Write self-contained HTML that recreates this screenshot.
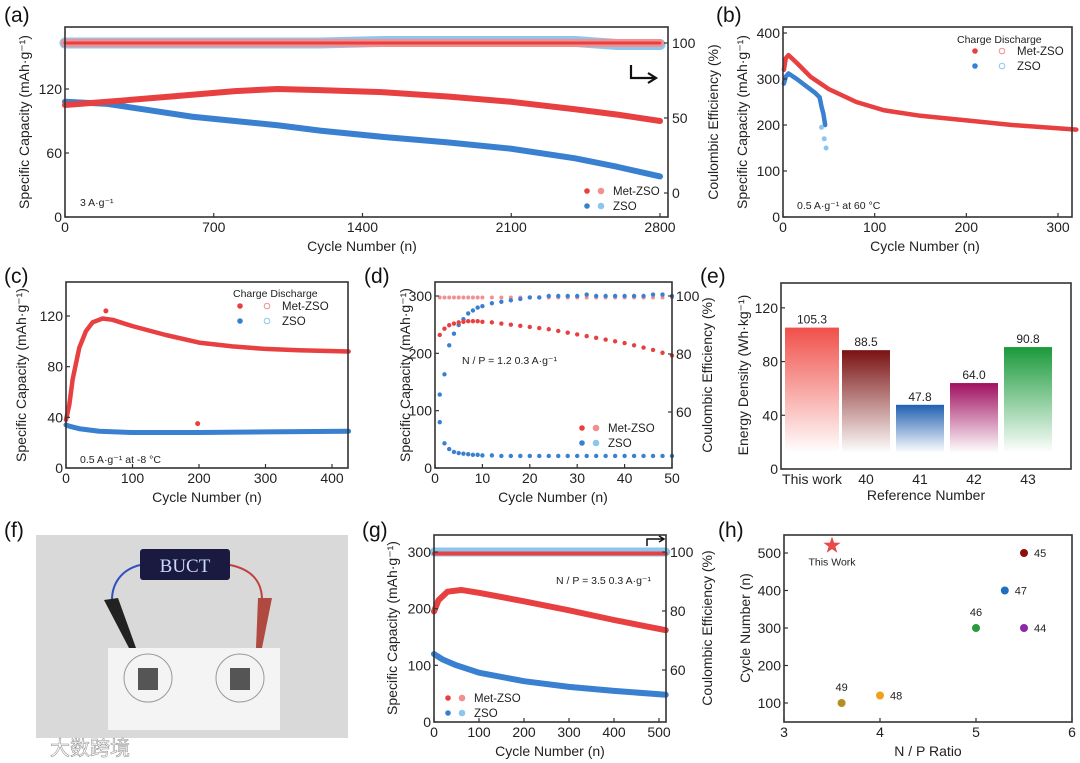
<!DOCTYPE html>
<html><head><meta charset="utf-8"><style>
html,body{margin:0;padding:0;background:#fff;}
svg{display:block;font-family:"Liberation Sans","Noto Sans CJK SC",sans-serif;}
</style></head><body>
<svg id="fig" width="1080" height="763" viewBox="0 0 1080 763" xmlns="http://www.w3.org/2000/svg">
<defs>
<linearGradient id="gr0" x1="0" y1="0" x2="0" y2="1"><stop offset="0" stop-color="#f0504a"/><stop offset="1" stop-color="#f0504a" stop-opacity="0"/></linearGradient>
<linearGradient id="gr1" x1="0" y1="0" x2="0" y2="1"><stop offset="0" stop-color="#7a1212"/><stop offset="1" stop-color="#7a1212" stop-opacity="0"/></linearGradient>
<linearGradient id="gr2" x1="0" y1="0" x2="0" y2="1"><stop offset="0" stop-color="#2060b0"/><stop offset="1" stop-color="#2060b0" stop-opacity="0"/></linearGradient>
<linearGradient id="gr3" x1="0" y1="0" x2="0" y2="1"><stop offset="0" stop-color="#a01060"/><stop offset="1" stop-color="#a01060" stop-opacity="0"/></linearGradient>
<linearGradient id="gr4" x1="0" y1="0" x2="0" y2="1"><stop offset="0" stop-color="#1a9a3a"/><stop offset="1" stop-color="#1a9a3a" stop-opacity="0"/></linearGradient>
</defs>
<!-- photo panel f -->
<g>
<rect x="36" y="535" width="312" height="203" fill="#d9d9d9"/>
<path d="M140 565 C 120 570, 112 585, 112 600" stroke="#3050c0" stroke-width="2" fill="none"/>
<path d="M230 565 C 255 570, 262 585, 262 600" stroke="#c04040" stroke-width="2" fill="none"/>
<rect x="140" y="549" width="90" height="31" rx="3" fill="#1a1a40"/>
<text x="185" y="572" text-anchor="middle" font-size="19" fill="#c8d8ff" font-family="Liberation Serif,serif">BUCT</text>
<polygon points="104,600 118,598 136,648 130,650" fill="#222"/>
<polygon points="258,598 272,598 262,648 256,648" fill="#b04a40"/>
<rect x="108" y="648" width="172" height="82" fill="#f4f4f4"/>
<circle cx="148" cy="678" r="24" fill="none" stroke="#999"/>
<circle cx="240" cy="678" r="24" fill="none" stroke="#999"/>
<rect x="138" y="668" width="20" height="22" fill="#555"/>
<rect x="230" y="668" width="20" height="22" fill="#555"/>
<text x="150" y="752" font-size="20" fill="#fff">1 2 3 4</text>
<text x="50" y="755" font-size="20" fill="#fff" stroke="#888" stroke-width="0.5">大数跨境</text>
</g>
</svg>
<script>
const NS="http://www.w3.org/2000/svg";
const svg=document.getElementById('fig');
function el(tag,attrs,parent){const e=document.createElementNS(NS,tag);for(const k in attrs)e.setAttribute(k,attrs[k]);(parent||svg).appendChild(e);return e;}
function lin(d0,d1,r0,r1){return v=>r0+(v-d0)*(r1-r0)/(d1-d0);}
function txt(x,y,s,size,anchor,fill,rot){const t=el('text',{x:x,y:y,'font-size':size||13,'text-anchor':anchor||'middle',fill:fill||'#222'});if(rot)t.setAttribute('transform','rotate(-90 '+x+' '+y+')');t.textContent=s;return t;}
const RED="#e84040",LRED="#f29090",BLUE="#3a80d0",LBLUE="#8cc6ef";

// ---------------- DATA ----------------
const aCycles=[0,200,500,800,1000,1200,1500,1800,2100,2400,2600,2800];
const aRed=[105,108,113,118,120,119,117,113,108,101,96,90];
const aBlueCyc=[0,200,400,600,800,1000,1200,1500,1800,2100,2400,2600,2800];
const aBlue=[108,106,100,94,90,86,81,75,70,64,55,47,38];
const aCERed=[100,100,100,100,100,100,100,100,100,100,100,100];
const aCEBlue=[100,100,100,100,100,100,101,101,101,101,99,99];

const bRedCyc=[1,3,6,15,30,50,80,110,150,200,250,320];
const bRed=[320,345,352,335,305,278,250,232,220,210,200,190];
const bBlueCyc=[1,3,6,15,25,35,40,42,44,46];
const bBlue=[290,305,312,300,285,270,260,240,225,200];

const cRedCyc=[0,5,10,20,30,40,55,70,100,150,200,250,300,350,425];
const cRed=[38,50,70,95,108,115,118,117,112,105,99,96,94,93,92];
const cBlueCyc=[0,5,20,50,100,200,300,425];
const cBlue=[34,33,31,29,28,28,28.5,29];

const dCyc=[1,2,3,4,5,6,7,8,9,10,12,14,16,18,20,22,24,26,28,30,32,34,36,38,40,42,44,46,48,50];
const dRed=[232,243,249,252,254,255,256,256,256,255,254,252,250,248,246,244,242,239,236,233,230,227,224,221,218,214,210,206,201,196];
const dBlue=[80,43,33,28,26,25,24,23,23,22,22,21,21,21,21,21,21,21,21,21,21,21,21,21,21,21,21,21,21,21];
const dCEBlue=[66,73,83,87,90,92,94,95,96,96.5,97.5,98,98.5,99,99.5,99.5,100,100,100,100,100.5,100,100,100,100,100,100,100.5,100.5,100];
const dCERed=[99.5,99.5,99.5,99.5,99.5,99.5,99.5,99.5,99.5,99.5,99.5,99.5,99.5,99.5,99.5,99.5,99.5,99.5,99.5,99.5,99.5,99.5,99.5,99.5,99.5,99.5,99.5,99.5,99.5,99.5];

const eCats=["This work","40","41","42","43"];
const eVals=[105.3,88.5,47.8,64.0,90.8];
const eLabels=["105.3","88.5","47.8","64.0","90.8"];

const gCyc=[0,10,30,60,100,200,300,400,515];
const gRed=[195,215,230,233,228,213,197,180,162];
const gBlueCyc=[0,20,50,100,200,300,400,515];
const gBlue=[120,110,100,87,72,62,55,48];

const hNames=["This Work","45","47","46","44","49","48"];
const hNP=[3.5,5.5,5.3,5.0,5.5,3.6,4.0];
const hCycles=[520,500,400,300,300,100,120];
const hColors=["#e84a4a","#8a1010","#1f6fc0","#2a9a3a","#8a2aa8","#b09020","#f0a020"];

// ------------ helpers -------------
function frame(name,x0,y0,x1,y1){
  const r=el('rect',{x:x0,y:y0,width:x1-x0,height:y1-y0,fill:'none',stroke:'#333','stroke-width':1.6});
  
  
}
function xTicks(name,sx,vals,yb,size){
  vals.forEach(v=>{
    const l=el('line',{x1:sx(v),x2:sx(v),y1:yb,y2:yb-4,stroke:'#333','stroke-width':1.2});
    
    
    const t=txt(sx(v),yb+15,String(v),size||14);
    
    
  });
}
function yTicks(name,sy,vals,x,side,size){
  vals.forEach(v=>{
    const dir=side==='r'?-1:1;
    const l=el('line',{x1:x,x2:x+4*dir,y1:sy(v),y2:sy(v),stroke:'#333','stroke-width':1.2});
    
    
    const t=txt(side==='r'?x+4:x-3,sy(v)+5,String(v),size||14,side==='r'?'start':'end');
    
    
  });
}
function series(name,xs,ys,sx,sy,color,w){
  const p=el('polyline',{points:xs.map((x,i)=>sx(x)+','+sy(ys[i])).join(' '),fill:'none',stroke:color,'stroke-width':w,'stroke-linejoin':'round','stroke-linecap':'round'});
  
  
}
function dots(name,xs,ys,sx,sy,color,r,open){
  xs.forEach((x,i)=>{
    const c=el('circle',{cx:sx(x),cy:sy(ys[i]),r:r,fill:open?'none':color,stroke:color,'stroke-width':open?1:0});
    
    
  });
}
function panelLabel(s,x,y){const t=txt(x,y,s,21,'start','#111');}
function legendRow(name,x,y,color,lcolor,label,open){
  const a=el('circle',{cx:x,cy:y,r:2.8,fill:color});
  
  
  const b=el('circle',{cx:x+(open?27:14),cy:y,r:2.8,fill:open?'none':lcolor,stroke:lcolor,'stroke-width':1});
  
  
  const t=txt(x+(open?42:26),y+4,label,11.5,'start');
  
  
}

// ---------- Panel a ----------
(function(){
  const sx=lin(0,2800,65,660), sy=lin(0,120,217,89), sr=lin(0,100,193,43);
  panelLabel('(a)',4,22);
  series('a-ce-zso',aCycles,aCEBlue,sx,sr,LBLUE,11);
  series('a-ce-zso-dark',aCycles,aCEBlue,sx,sr,BLUE,4);
  series('a-ce-met-zso',aCycles,aCERed,sx,sr,LRED,8);
  series('a-ce-met-zso-dark',aCycles,aCERed,sx,sr,RED,3);
  series('a-capacity-zso',aBlueCyc,aBlue,sx,sy,BLUE,6);
  series('a-capacity-met-zso',aCycles,aRed,sx,sy,RED,6);
  frame('a',65,27,668,217);
  xTicks('a',sx,[0,700,1400,2100,2800],217);
  yTicks('a',sy,[0,60,120],65,'l');
  yTicks('a',sr,[0,50,100],668,'r');
  let t=txt(362,251,'Cycle Number (n)',14);
  t=txt(29,122,'Specific Capacity (mAh·g⁻¹)',14,'middle','#222',true);
  t=txt(718,122,'Coulombic Efficiency (%)',14,'middle','#222',true);
  t=txt(80,206,'3 A·g⁻¹',10.5,'start');
  const ar=el('path',{d:'M631 65 V78 H654 M648 73 L656 78 L648 83',fill:'none',stroke:'#111','stroke-width':2.2});
  
  legendRow('a-legend-met-zso',587,191,RED,LRED,'Met-ZSO',false);
  legendRow('a-legend-zso',587,206,BLUE,LBLUE,'ZSO',false);
})();

// ---------- Panel b ----------
(function(){
  const sx=lin(0,300,783,1058), sy=lin(0,400,217,33);
  panelLabel('(b)',716,22);
  series('b-capacity-met-zso',bRedCyc,bRed,sx,sy,RED,4.5);
  series('b-capacity-zso',bBlueCyc,bBlue,sx,sy,BLUE,4.5);
  dots('b-zso-outlier',[42,45,47],[195,170,150],sx,sy,LBLUE,2.5,false);
  frame('b',783,27,1072,217);
  xTicks('b',sx,[0,100,200,300],217);
  yTicks('b',sy,[0,100,200,300,400],783,'l');
  let t=txt(925,251,'Cycle Number (n)',14);
  t=txt(747,122,'Specific Capacity (mAh·g⁻¹)',14,'middle','#222',true);
  t=txt(797,209,'0.5 A·g⁻¹  at 60 °C',10.5,'start');
  t=txt(957,43,'Charge Discharge',10.5,'start');
  legendRow('b-legend-met-zso',975,51,RED,LRED,'Met-ZSO',true);
  legendRow('b-legend-zso',975,66,BLUE,LBLUE,'ZSO',true);
})();

// ---------- Panel c ----------
(function(){
  const sx=lin(0,400,66,332), sy=lin(0,120,468,316);
  panelLabel('(c)',4,283);
  series('c-capacity-met-zso',cRedCyc,cRed,sx,sy,RED,4.5);
  series('c-capacity-zso',cBlueCyc,cBlue,sx,sy,BLUE,5);
  dots('c-outlier',[60,198],[124,35],sx,sy,RED,2.5,false);
  frame('c',66,282,348,468);
  xTicks('c',sx,[0,100,200,300,400],468);
  yTicks('c',sy,[0,40,80,120],66,'l');
  let t=txt(207,502,'Cycle Number (n)',14);
  t=txt(26,375,'Specific Capacity (mAh·g⁻¹)',14,'middle','#222',true);
  t=txt(80,463,'0.5 A·g⁻¹  at -8 °C',10.5,'start');
  t=txt(233,297,'Charge Discharge',10.5,'start');
  legendRow('c-legend-met-zso',240,306,RED,LRED,'Met-ZSO',true);
  legendRow('c-legend-zso',240,321,BLUE,LBLUE,'ZSO',true);
})();

// ---------- Panel d ----------
(function(){
  const sx=lin(0,50,435,672), sy=lin(0,300,468,296), sr=lin(60,100,412,296);
  panelLabel('(d)',364,283);
  dots('d-ce-met-zso',dCyc,dCERed,sx,sr,LRED,2,false);
  dots('d-ce-zso',dCyc,dCEBlue,sx,sr,BLUE,2.2,false);
  dots('d-capacity-met-zso',dCyc,dRed,sx,sy,RED,2.2,false);
  dots('d-capacity-zso',dCyc,dBlue,sx,sy,BLUE,2.2,false);
  frame('d',435,282,672,468);
  xTicks('d',sx,[0,10,20,30,40,50],468);
  yTicks('d',sy,[0,100,200,300],435,'l');
  yTicks('d',sr,[60,80,100],672,'r');
  let t=txt(553,502,'Cycle Number (n)',14);
  t=txt(410,375,'Specific Capacity (mAh·g⁻¹)',14,'middle','#222',true);
  t=txt(712,375,'Coulombic Efficiency (%)',14,'middle','#222',true);
  t=txt(462,364,'N / P = 1.2  0.3 A·g⁻¹',10.5,'start');
  legendRow('d-legend-met-zso',582,428,RED,LRED,'Met-ZSO',false);
  legendRow('d-legend-zso',582,443,BLUE,LBLUE,'ZSO',false);
})();

// ---------- Panel e ----------
(function(){
  const sy=lin(0,140,469,281);
  const sxc=i=>812+i*54;
  panelLabel('(e)',700,283);
  eVals.forEach((v,i)=>{
    const w=i===0?54:48;
    const r=el('rect',{x:sxc(i)-w/2,y:sy(v),width:w,height:sy(12)-sy(v),fill:'url(#gr'+i+')'});
    
    
    const t=txt(sxc(i),sy(v)-4,eLabels[i],12);
    
    
    const c=txt(sxc(i),484,eCats[i],14);
    
    
  });
  frame('e',781,283,1071,469);
  yTicks('e',sy,[0,40,80,120],781,'l');
  let t=txt(926,500,'Reference Number',14);
  t=txt(748,375,'Energy Density (Wh·kg⁻¹)',14,'middle','#222',true);
})();

// ---------- Panel g ----------
(function(){
  const sx=lin(0,500,434,659), sy=lin(0,300,722,552), sr=lin(60,100,670,552);
  panelLabel('(g)',362,537);
  series('g-ce-zso',[0,515],[100,100],sx,sr,LBLUE,9);
  series('g-ce-met-zso',[0,515],[99.5,99.5],sx,sr,RED,4);
  series('g-capacity-met-zso',gCyc,gRed,sx,sy,RED,6);
  series('g-capacity-zso',gBlueCyc,gBlue,sx,sy,BLUE,6);
  frame('g',434,535,666,722);
  xTicks('g',sx,[0,100,200,300,400,500],722);
  yTicks('g',sy,[0,100,200,300],434,'l');
  yTicks('g',sr,[60,80,100],666,'r');
  let t=txt(550,756,'Cycle Number (n)',14);
  t=txt(397,628,'Specific Capacity (mAh·g⁻¹)',14,'middle','#222',true);
  t=txt(712,628,'Coulombic Efficiency (%)',14,'middle','#222',true);
  t=txt(556,584,'N / P = 3.5  0.3 A·g⁻¹',10.5,'start');
  const ar=el('path',{d:'M647 546 V539 H663 M659 536 L664 539 L659 542',fill:'none',stroke:'#111','stroke-width':1.5});
  
  legendRow('g-legend-met-zso',448,698,RED,LRED,'Met-ZSO',false);
  legendRow('g-legend-zso',448,713,BLUE,LBLUE,'ZSO',false);
})();

// ---------- Panel h ----------
(function(){
  const sx=lin(3,6,784,1072), sy=lin(100,500,703,553);
  panelLabel('(h)',718,537);
  hNP.forEach((v,i)=>{
    const x=sx(v),y=sy(hCycles[i]);
    if(i===0){
      const pts=[];for(let k=0;k<10;k++){const a=-Math.PI/2+k*Math.PI/5,r=k%2?3.6:9;pts.push((x+r*Math.cos(a)).toFixed(1)+','+(y+r*Math.sin(a)).toFixed(1));}
      const s=el('polygon',{points:pts.join(' '),fill:hColors[i]});
      
      
      const t=txt(x,y+20,hNames[i],10.5);
      
      
    } else {
      const c=el('circle',{cx:x,cy:y,r:4,fill:hColors[i]});
      
      
      const above=(hNames[i]==='46'||hNames[i]==='49');
      const t=above?txt(x,y-12,hNames[i],11):txt(x+10,y+4,hNames[i],11,'start');
      
      
    }
  });
  frame('h',784,535,1072,722);
  xTicks('h',sx,[3,4,5,6],722);
  yTicks('h',sy,[100,200,300,400,500],784,'l');
  let t=txt(928,756,'N / P Ratio',14);
  t=txt(750,628,'Cycle Number (n)',14,'middle','#222',true);
})();
panelLabel('(f)',4,537);
</script>
</body></html>
